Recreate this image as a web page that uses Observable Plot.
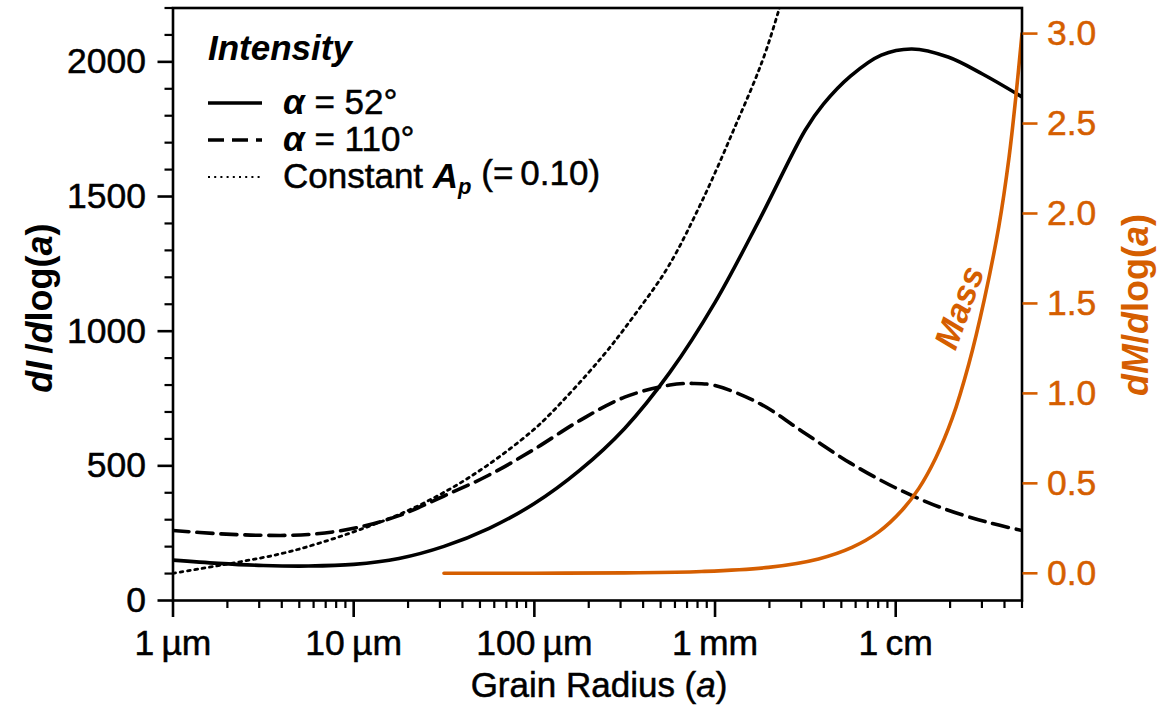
<!DOCTYPE html>
<html>
<head>
<meta charset="utf-8">
<script src="https://cdn.jsdelivr.net/npm/d3@7"></script>
<script src="https://cdn.jsdelivr.net/npm/@observablehq/plot@0.6"></script>
<style>
  html, body { margin: 0; padding: 0; background: #fff; }
  #chart { position: relative; width: 1158px; height: 709px; }
  #chart svg text { stroke-width: 0.5px; }
</style>
</head>
<body>
<div id="chart"></div>
<script>
// ---------- data (radius in µm) ----------
const solidRadius = [1, 1.78, 3.16, 5.62, 10, 17.8, 31.6, 56.2, 100, 178, 316, 562, 1000, 1780, 3160, 3980, 5620, 8320, 12300, 19500, 30200, 50000];
const solidIntensity = [150, 138, 130, 128, 134, 156, 201, 268, 360, 483, 639, 847, 1107, 1420, 1747, 1843, 1947, 2025, 2048, 2018, 1955, 1870];

const dashedRadius = [1, 1.78, 3.16, 5.62, 10, 17.8, 31.6, 56.2, 100, 178, 316, 562, 759, 1000, 1780, 3160, 5620, 10000, 17800, 31600, 50000];
const dashedIntensity = [260, 248, 242, 245, 268, 315, 388, 466, 562, 668, 755, 800, 806, 798, 730, 620, 510, 418, 345, 292, 260];

const dottedRadius = [1, 2.19, 3.98, 6.31, 10.5, 19.1, 33.1, 55, 95.5, 123, 234, 363, 550, 851, 1290, 1820, 2240, 2500];
const dottedIntensity = [101, 140, 174, 211, 260, 328, 409, 502, 625, 694, 900, 1065, 1239, 1486, 1759, 2000, 2186, 2300];

const massRadius = [31.6, 100, 316, 843, 1977, 3741, 5728, 8054, 10840, 13430, 16600, 20560, 25410, 30900, 37240, 42360, 46130, 50000];
const massValue = [0, 0.0005, 0.0025, 0.010, 0.033, 0.08, 0.144, 0.23, 0.35, 0.472, 0.638, 0.862, 1.165, 1.52, 1.93, 2.31, 2.64, 3.0];

const xMajorTicks = [1, 10, 100, 1000, 10000];
const xMajorLabels = ["1\u2009µm", "10\u2009µm", "100\u2009µm", "1\u2009mm", "1\u2009cm"];
const xMinorTicks = [2,3,4,5,6,7,8,9, 20,30,40,50,60,70,80,90, 200,300,400,500,600,700,800,900, 2000,3000,4000,5000,6000,7000,8000,9000, 20000,30000,40000,50000];
const yMajorTicks = [0, 500, 1000, 1500, 2000];
const yMinorTicks = [100,200,300,400,600,700,800,900,1100,1200,1300,1400,1600,1700,1800,1900,2100,2200];
const massTicks = [0, 0.5, 1.0, 1.5, 2.0, 2.5, 3.0];
const massTickLabels = ["0.0", "0.5", "1.0", "1.5", "2.0", "2.5", "3.0"];

// ---------- helpers ----------
const ORANGE = "#D55E00";
const MASS_OFFSET = 101, MASS_FACTOR = 668; // right axis mapped onto left scale
const toLeft = m => MASS_OFFSET + MASS_FACTOR * m;

const solid = solidRadius.map((r, i) => ({r, v: solidIntensity[i]}));
const dashed = dashedRadius.map((r, i) => ({r, v: dashedIntensity[i]}));
const dotted = dottedRadius.map((r, i) => ({r, v: dottedIntensity[i]}));
const mass = massRadius.map((r, i) => ({r, v: toLeft(massValue[i])}));
const massLabelAnchor = [mass[12]];
const massTickPos = massTicks.map(toLeft);

const FONT = "'Liberation Sans', Arial, Helvetica, sans-serif";
const TICK_FS = 35.5;

const svg = Plot.plot({
  width: 1158,
  height: 709,
  marginLeft: 172.5,
  marginRight: 136.5,
  marginTop: 7.5,
  marginBottom: 109,
  style: {fontFamily: FONT, fontSize: TICK_FS + "px", background: "white", color: "black", overflow: "visible"},
  x: {type: "log", domain: [1, 50000]},
  y: {domain: [0, 2200]},
  marks: [
    Plot.line(dotted, {x: "r", y: "v", stroke: "black", strokeWidth: 2.8, strokeDasharray: "2.8,4.6", curve: "catmull-rom", clip: true}),
    Plot.line(dashed, {x: "r", y: "v", stroke: "black", strokeWidth: 3.6, strokeDasharray: "16,8", curve: "catmull-rom", clip: true}),
    Plot.line(solid, {x: "r", y: "v", stroke: "black", strokeWidth: 3.6, curve: "catmull-rom", clip: true}),
    Plot.line(mass, {x: "r", y: "v", stroke: ORANGE, strokeWidth: 3.6, curve: "catmull-rom", clip: true}),
    Plot.text(massLabelAnchor, {x: "r", y: "v", text: () => "Mass", fill: ORANGE, fontStyle: "italic", fontWeight: "bold", fontSize: 34, rotate: -70, dx: -9, dy: -56, textAnchor: "middle"}),
    Plot.frame({stroke: "black", strokeWidth: 2.6}),
    Plot.axisX(xMajorTicks, {anchor: "bottom", tickSize: 17, tickPadding: 12, strokeWidth: 2.6, tickFormat: d => xMajorLabels[xMajorTicks.indexOf(d)], label: null, fontSize: TICK_FS}),
    Plot.axisX(xMinorTicks, {anchor: "bottom", tickSize: 8, strokeWidth: 2.2, tickFormat: () => "", label: null}),
    Plot.axisY(yMajorTicks, {anchor: "left", tickSize: 15, tickPadding: 12, strokeWidth: 2.6, tickFormat: d => String(d), label: null, fontSize: TICK_FS}),
    Plot.axisY(yMinorTicks, {anchor: "left", tickSize: 8, strokeWidth: 2.2, tickFormat: () => "", label: null}),
    Plot.axisY(massTickPos, {anchor: "right", tickSize: 15, tickPadding: 10, strokeWidth: 2.6, color: ORANGE, tickFormat: d => massTickLabels[massTickPos.indexOf(d)], label: null, fontSize: TICK_FS})
  ]
});

document.getElementById("chart").appendChild(svg);
// slightly heavier glyphs for tick labels, in their own colour
d3.select(svg).selectAll("g[aria-label='y-axis tick label'], g[aria-label='x-axis tick label']").each(function () {
  const g = d3.select(this);
  const col = g.attr("fill") || "black";
  g.selectAll("text").attr("stroke", col === "currentColor" ? "black" : col);
});

// ---------- titles & legend (text with mixed styles) ----------
const root = d3.select(svg);
function addText(x, y, parts, {anchor = "start", rotate = 0, fill = "black", size = 35, heavy = true} = {}) {
  const t = root.append("text")
    .attr("transform", `translate(${x},${y}) rotate(${rotate})`)
    .attr("text-anchor", anchor)
    .attr("fill", fill)
    .style("font-family", FONT)
    .style("font-size", size + "px");
  for (const p of parts) {
    const s = t.append("tspan").text(p.t);
    if (p.b) s.attr("font-weight", "bold");
    if (p.i) s.attr("font-style", "italic");
    if (p.size) s.attr("font-size", p.size);
    if (p.dy) s.attr("dy", p.dy);
    if (!p.b && heavy) s.attr("stroke", fill);
  }
  return t;
}

// x-axis title
addText(599, 697, [{t: "Grain Radius ("}, {t: "a", i: true}, {t: ")"}], {anchor: "middle"});
// left y-axis title
addText(52, 308, [{t: "d", b: true, i: true}, {t: "I", b: true, i: true}, {t: "\u2009/", b: true}, {t: "d", b: true, i: true}, {t: "log(", b: true}, {t: "a", b: true, i: true}, {t: ")", b: true}], {anchor: "middle", rotate: -90, size: 36});
// right y-axis title
addText(1148, 305, [{t: "d", b: true, i: true}, {t: "M", b: true, i: true}, {t: "/", b: true}, {t: "d", b: true, i: true}, {t: "log(", b: true}, {t: "a", b: true, i: true}, {t: ")", b: true}], {anchor: "middle", rotate: -90, fill: ORANGE, size: 36});

// legend
addText(208, 60, [{t: "Intensity", b: true, i: true}]);
const legendRows = [
  {y: 103, dash: null, w: 3.6, label: [{t: "α", b: true, i: true}, {t: " = 52°"}]},
  {y: 140, dash: "16,8", w: 3.6, label: [{t: "α", b: true, i: true}, {t: " = 110°"}]},
  {y: 177, dash: "2,4.2", w: 2.2, label: [{t: "Constant "}, {t: "A", b: true, i: true}, {t: "p", b: true, i: true, size: "22px", dy: "0.25em"}, {t: " (=\u20090.10)", dy: "-0.25em"}]}
];
for (const row of legendRows) {
  const ln = root.append("line").attr("x1", 208).attr("x2", 262).attr("y1", row.y).attr("y2", row.y)
    .attr("stroke", "black").attr("stroke-width", row.w);
  if (row.dash) ln.attr("stroke-dasharray", row.dash);
  addText(283, row.y + 11, row.label);
}
</script>
</body>
</html>
